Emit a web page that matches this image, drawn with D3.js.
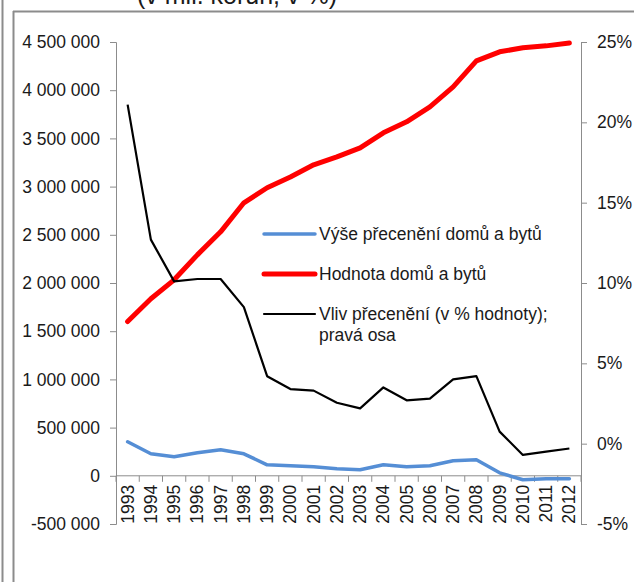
<!DOCTYPE html>
<html>
<head>
<meta charset="utf-8">
<script src="https://cdn.jsdelivr.net/npm/d3@7"></script>
<style>
  body { margin: 0; background: #fff; }
  text { font-family: "Liberation Sans", Arial, sans-serif; fill: #1a1a1a; }
</style>
</head>
<body>
<div id="chart"></div>
<script>
// years on the category axis
var years = ["1993","1994","1995","1996","1997","1998","1999","2000","2001","2002",
             "2003","2004","2005","2006","2007","2008","2009","2010","2011","2012"];
// revaluation of houses and flats (mil. CZK)
var revaluation = [353000, 228000, 197000, 239000, 270000, 228000, 114000, 104000, 93000, 73000,
                   62000, 114000, 93000, 104000, 156000, 166000, 31000, -41000, -31000, -31000];
// value of houses and flats (mil. CZK)
var houseValue = [1600000, 1836000, 2033000, 2292000, 2531000, 2832000, 2988000, 3100000, 3226000, 3309000,
                  3402000, 3558000, 3672000, 3828000, 4035000, 4305000, 4398000, 4440000, 4460000, 4490000];
// revaluation effect, % of value (right axis)
var effectPct = [21.1, 12.7, 10.1, 10.25, 10.25, 8.5, 4.2, 3.4, 3.3, 2.55,
                 2.2, 3.5, 2.7, 2.8, 4.0, 4.2, 0.75, -0.7, -0.5, -0.3];
var leftTicks = [-500000, 0, 500000, 1000000, 1500000, 2000000, 2500000, 3000000, 3500000, 4000000, 4500000];
var rightTicks = [-5, 0, 5, 10, 15, 20, 25];
var legendLabels = ["Výše přecenění domů a bytů", "Hodnota domů a bytů", "Vliv přecenění (v % hodnoty);|pravá osa"];

var width = 634, height = 582;
var svg = d3.select("#chart").append("svg")
  .attr("width", width)
  .attr("height", height);

// frame pieces
svg.append("line").attr("x1", 2.5).attr("x2", 2.5).attr("y1", 0).attr("y2", height)
  .attr("stroke", "#8c8c8c").attr("stroke-width", 2);
svg.append("line").attr("x1", 13.5).attr("x2", 13.5).attr("y1", 11).attr("y2", height)
  .attr("stroke", "#8c8c8c").attr("stroke-width", 2);
svg.append("line").attr("x1", 13).attr("x2", width).attr("y1", 11.5).attr("y2", 11.5)
  .attr("stroke", "#8c8c8c").attr("stroke-width", 2);

// title (cut off at top)
svg.append("text").attr("x", 237).attr("y", 4).attr("text-anchor", "middle")
  .style("font-size", "25px").text("(v mil. korun, v %)");

var plotLeft = 116, plotRight = 581, plotTop = 42, plotBottom = 524;

var x = d3.scaleBand().domain(years).range([plotLeft, plotRight]);
var yL = d3.scaleLinear().domain([-500000, 4500000]).range([plotBottom, plotTop]);
var yR = d3.scaleLinear().domain([-5, 25]).range([plotBottom, plotTop]);

var fmt = function(d) { return d3.format(",")(d).replace(/,/g, " ").replace("\u2212", "-"); };

// left axis
var gl = svg.append("g").attr("transform", "translate(" + plotLeft + ",0)")
  .call(d3.axisLeft(yL).tickValues(leftTicks).tickFormat(fmt).tickSizeInner(6).tickSizeOuter(6).tickPadding(10));
// right axis
var gr = svg.append("g").attr("transform", "translate(" + plotRight + ",0)")
  .call(d3.axisRight(yR).tickValues(rightTicks).tickFormat(function(d) { return d + "%"; }).tickSizeInner(6).tickSizeOuter(6).tickPadding(10));
[gl, gr].forEach(function(g) {
  g.select(".domain").attr("stroke", "#8c8c8c");
  g.selectAll(".tick line").attr("stroke", "#8c8c8c");
  g.selectAll(".tick text").style("font-size", "17.5px").attr("fill", "#1a1a1a");
});

// category axis at zero
var gx = svg.append("g").attr("transform", "translate(0," + yL(0) + ")");
gx.append("line").attr("x1", plotLeft).attr("x2", plotRight).attr("stroke", "#8c8c8c");
gx.selectAll(".tk").data(years.concat(["end"])).enter().append("line")
  .attr("x1", function(d, i) { return plotLeft + i * x.bandwidth(); })
  .attr("x2", function(d, i) { return plotLeft + i * x.bandwidth(); })
  .attr("y1", 0).attr("y2", 6).attr("stroke", "#8c8c8c");
gx.selectAll("text").data(years).enter().append("text")
  .attr("transform", function(d) { return "translate(" + (x(d) + x.bandwidth() / 2 + 6) + ",9) rotate(-90)"; })
  .attr("text-anchor", "end")
  .style("font-size", "17.5px")
  .text(function(d) { return d; });

// lines
var lineL = d3.line().x(function(d, i) { return x(years[i]) + x.bandwidth() / 2; }).y(function(d) { return yL(d); });
var lineR = d3.line().x(function(d, i) { return x(years[i]) + x.bandwidth() / 2; }).y(function(d) { return yR(d); });

svg.append("path").datum(houseValue).attr("d", lineL)
  .attr("fill", "none").attr("stroke", "#ff0000").attr("stroke-width", 5).attr("stroke-linejoin", "round").attr("stroke-linecap", "round");
svg.append("path").datum(revaluation).attr("d", lineL)
  .attr("fill", "none").attr("stroke", "#558ed5").attr("stroke-width", 3.5).attr("stroke-linejoin", "round").attr("stroke-linecap", "round");
svg.append("path").datum(effectPct).attr("d", lineR)
  .attr("fill", "none").attr("stroke", "#000").attr("stroke-width", 2.2).attr("stroke-linejoin", "round");

// legend
var legColors = ["#558ed5", "#ff0000", "#000"];
var legWidths = [3.5, 5, 2.2];
var leg = svg.append("g");
legendLabels.forEach(function(lab, i) {
  var yy = 234 + i * 40;
  leg.append("line").attr("x1", 264).attr("x2", 315).attr("y1", yy).attr("y2", yy)
    .attr("stroke", legColors[i]).attr("stroke-width", legWidths[i]).attr("stroke-linecap", "round");
  lab.split("|").forEach(function(part, j) {
    leg.append("text").attr("x", 319).attr("y", yy + 6 + j * 21)
      .style("font-size", "17.5px").text(part);
  });
});
</script>
</body>
</html>
